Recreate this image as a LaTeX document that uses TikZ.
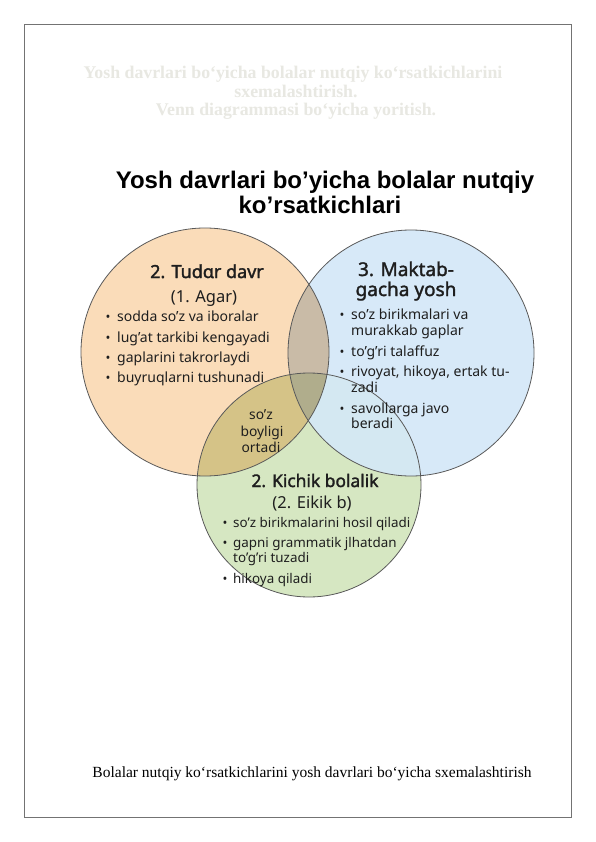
\documentclass[tikz,border=0pt]{standalone}
\usepackage{fontspec}
\setmainfont{Liberation Serif}
\newfontfamily\vsans{Noto Sans}
\newfontfamily\vsansb{Noto Sans}[FakeBold=1.7]
\newfontfamily\tsans{Liberation Sans}
\definecolor{cor}{HTML}{FADCB9}
\definecolor{cbl}{HTML}{D7E9F8}
\definecolor{cgr}{HTML}{D6E7C2}
\definecolor{cob}{HTML}{C9BBA7}
\definecolor{cog}{HTML}{D5C387}
\definecolor{cbg}{HTML}{D4E8F2}
\definecolor{cobg}{HTML}{B0AD8C}
\definecolor{faint}{HTML}{E8E8E2}
\definecolor{ink}{HTML}{1E1E1E}
\begin{document}
\begin{tikzpicture}[x=1pt,y=-1pt,
  frame/.style={draw=black!55,line width=0.9pt},
  ring/.style={draw=black!65,line width=0.8pt},
  faded/.style={font=\fontsize{17.8}{20}\selectfont\bfseries,text=faint,inner sep=0pt,anchor=base},
  bigtitle/.style={font=\tsans\fontsize{24}{27}\selectfont\bfseries,text=black,inner sep=0pt,anchor=base},
  head/.style={font=\vsansb\fontsize{18}{20}\selectfont,text=ink,inner sep=0pt,anchor=base},
  ghead/.style={font=\vsansb\fontsize{17.4}{20}\selectfont,text=ink,inner sep=0pt,anchor=base},
  bhead/.style={font=\vsansb\fontsize{19}{21}\selectfont,text=ink,inner sep=0pt,anchor=base},
  sub/.style={font=\vsans\fontsize{16.5}{18}\selectfont,text=ink,inner sep=0pt,anchor=base},
  btxt/.style={font=\vsans\fontsize{14}{16}\selectfont,text=ink,inner sep=0pt,anchor=base west},
  gtxt/.style={font=\vsans\fontsize{13.4}{16}\selectfont,text=ink,inner sep=0pt,anchor=base west},
  bdot/.style={font=\vsans\fontsize{13}{14}\selectfont,text=ink,inner sep=0pt,anchor=base},
  mid/.style={font=\vsans\fontsize{13.8}{16}\selectfont,text=ink,inner sep=0pt,anchor=base},
  captext/.style={font=\fontsize{15.5}{18}\selectfont,text=black,inner sep=0pt,anchor=base}]
\useasboundingbox (0,0) rectangle (596,842);
\fill[white] (0,0) rectangle (596,842);
\draw[frame] (24,24) rectangle (571,817);
% faded heading
\node[faded] (f1) at (293,79) {Yosh davrlari bo‘yicha bolalar nutqiy ko‘rsatkichlarini};
\node[faded] (f2) at (296,98) {sxemalashtirish.};
\node[faded] (f3) at (296,116) {Venn diagrammasi bo‘yicha yoritish.};
% title
\node[bigtitle] (t1) at (325,189) {Yosh davrlari bo’yicha bolalar nutqiy};
\node[bigtitle] (t2) at (320,214) {ko’rsatkichlari};
% circles
\fill[cor] (205,352) circle[radius=124];
\fill[cbl] (411,353) circle[radius=123];
\fill[cgr] (309,485) circle[radius=112];
\begin{scope}\clip (205,352) circle[radius=124]; \fill[cob] (411,353) circle[radius=123];\end{scope}
\begin{scope}\clip (205,352) circle[radius=124]; \fill[cog] (309,485) circle[radius=112];\end{scope}
\begin{scope}\clip (411,353) circle[radius=123]; \fill[cbg] (309,485) circle[radius=112];\end{scope}
\begin{scope}\clip (205,352) circle[radius=124]; \clip (411,353) circle[radius=123]; \fill[cobg] (309,485) circle[radius=112];\end{scope}
\draw[ring] (205,352) circle[radius=124];
\draw[ring] (411,353) circle[radius=123];
\draw[ring] (309,485) circle[radius=112];
% orange circle text
\node[head] (oh) at (207,278) {2. Tudɑr davr};
\node[sub] (os) at (204,302) {(1. Agar)};
\node[bdot] (ob1) at (108,321) {•}; \node[btxt] (o1) at (117,321) {sodda so’z va iboralar};
\node[bdot] (ob2) at (108,342) {•}; \node[btxt] (o2) at (117,342) {lug’at tarkibi kengayadi};
\node[bdot] (ob3) at (108,362) {•}; \node[btxt] (o3) at (117,362) {gaplarini takrorlaydi};
\node[bdot] (ob4) at (108,382) {•}; \node[btxt] (o4) at (117,382) {buyruqlarni tushunadi};
% blue circle text
\node[bhead] (bh1) at (406,276) {3. Maktab-};
\node[bhead] (bh2) at (406,296) {gacha yosh};
\node[bdot] (bb1) at (342,319) {•}; \node[btxt] (b1) at (351,319) {so’z birikmalari va};
\node[btxt] (b1b) at (351,335) {murakkab gaplar};
\node[bdot] (bb2) at (342,356) {•}; \node[btxt] (b2) at (351,356) {to’g’ri talaffuz};
\node[bdot] (bb3) at (342,376) {•}; \node[btxt] (b3) at (351,376) {rivoyat, hikoya, ertak tu-};
\node[btxt] (b3b) at (351,392) {zadi};
\node[bdot] (bb4) at (342,413) {•}; \node[btxt] (b4) at (351,413) {savollarga javo};
\node[btxt] (b4b) at (351,428) {beradi};
% centre
\node[mid] (m1) at (261,419) {so’z};
\node[mid] (m2) at (262,436) {boyligi};
\node[mid] (m3) at (261,452) {ortadi};
% green circle text
\node[ghead] (gh) at (315,487) {2. Kichik bolalik};
\node[sub] (gs) at (312,508) {(2. Eikik b)};
\node[bdot] (gb1) at (225,527) {•}; \node[gtxt] (g1) at (233,527) {so’z birikmalarini hosil qiladi};
\node[bdot] (gb2) at (225,547) {•}; \node[gtxt] (g2) at (233,547) {gapni grammatik jlhatdan};
\node[gtxt] (g2b) at (233,562) {to’g’ri tuzadi};
\node[bdot] (gb3) at (225,583) {•}; \node[gtxt] (g3) at (233,583) {hikoya qiladi};
% caption
\node[captext] (c) at (312,777) {Bolalar nutqiy ko‘rsatkichlarini yosh davrlari bo‘yicha sxemalashtirish};
\end{tikzpicture}
\end{document}
